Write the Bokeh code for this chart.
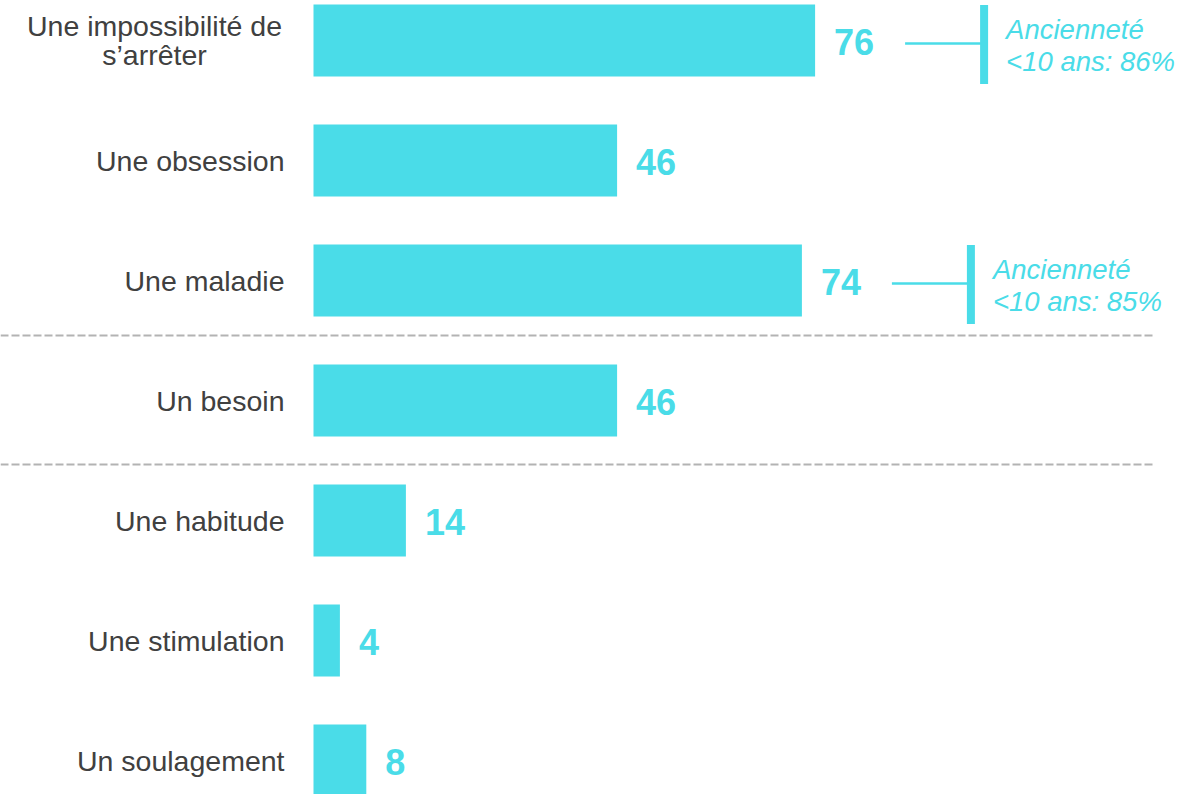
from bokeh.plotting import figure
from bokeh.models import ColumnDataSource, Range1d
from bokeh.core.properties import value
from bokeh.embed import file_html
from bokeh.resources import INLINE

# ---- data ----
categories = ["Une impossibilité de\ns’arrêter", "Une obsession", "Une maladie",
              "Un besoin", "Une habitude", "Une stimulation", "Un soulagement"]
values = [76, 46, 74, 46, 14, 4, 8]
note_categories = ["Une impossibilité de\ns’arrêter", "Une maladie"]
note_texts = ["Ancienneté\n<10 ans: 86%", "Ancienneté\n<10 ans: 85%"]
separator_after = ["Une maladie", "Un besoin"]

# ---- layout constants (pixels) ----
W, H = 1203, 794
PX_X = 6.6          # pixels per value unit
X0 = 313            # canvas pixel of value 0
ROW = 120           # pixels per row
Y0 = 40             # canvas pixel of first row centre

CYAN = "#4adce8"
GREY = "#404040"
FONT = "Liberation Sans"

p = figure(width=W, height=H, output_backend="svg", toolbar_location=None,
           x_axis_type=None, y_axis_type=None, min_border=0,
           x_range=Range1d(-X0 / PX_X, (W - X0) / PX_X),
           y_range=Range1d((H - Y0) / ROW, -Y0 / ROW))
p.outline_line_color = None
p.grid.visible = False
p.background_fill_color = "white"
p.border_fill_color = "white"

idx = list(range(len(categories)))
src = ColumnDataSource(dict(y=idx, v=values, cat=categories,
                            lab=[str(v) for v in values]))

p.hbar(y="y", left=0, right="v", height=72 / ROW, source=src,
       fill_color=CYAN, line_color=None)

# value labels
p.text(x="v", y="y", text="lab", source=src, x_offset=19, y_offset=1,
       text_align="left", text_baseline="middle", text_color=CYAN,
       text_font=value(FONT), text_font_style="bold", text_font_size="36px")

# category labels
single = [i for i in idx if "\n" not in categories[i]]
multi = [i for i in idx if "\n" in categories[i]]
p.text(x=[0] * len(single), y=single, text=[categories[i] for i in single],
       x_offset=-29, text_align="right", text_baseline="middle",
       text_color=GREY, text_font=value(FONT), text_font_size="28.5px")
p.text(x=[0] * len(multi), y=multi, text=[categories[i] for i in multi],
       x_offset=-159, y_offset=0, text_align="center", text_baseline="middle",
       text_color=GREY, text_font=value(FONT), text_font_size="28.5px",
       text_line_height=0.93)

# separators
sep_y = []
for k, c in enumerate(separator_after):
    i = categories.index(c)
    sep_y.append(i + 0.5 + (-5 if k == 0 else 4) / ROW)
xs = p.x_range.start
p.segment(x0=[xs] * len(sep_y), x1=[(1154 - X0) / PX_X] * len(sep_y),
          y0=sep_y, y1=sep_y, line_color="#b3b3b3", line_width=2,
          line_dash="8 3")

# notes
n_rows = [categories.index(c) for c in note_categories]
n_vals = [values[i] for i in n_rows]
p.segment(x0=[v + 90 / PX_X for v in n_vals], x1=[v + 170 / PX_X for v in n_vals],
          y0=[r + 3 / ROW for r in n_rows], y1=[r + 3 / ROW for r in n_rows],
          line_color=CYAN, line_width=2.5)
p.segment(x0=[v + 169 / PX_X for v in n_vals], x1=[v + 169 / PX_X for v in n_vals],
          y0=[r - 35.5 / ROW for r in n_rows], y1=[r + 43.5 / ROW for r in n_rows],
          line_color=CYAN, line_width=8)
p.text(x=n_vals, y=n_rows, text=note_texts, x_offset=191, y_offset=5,
       text_align="left", text_baseline="middle", text_color=CYAN,
       text_font=value(FONT), text_font_style="italic", text_font_size="27.5px",
       text_line_height=1.04)

open("out.html", "w").write(file_html(p, INLINE))
